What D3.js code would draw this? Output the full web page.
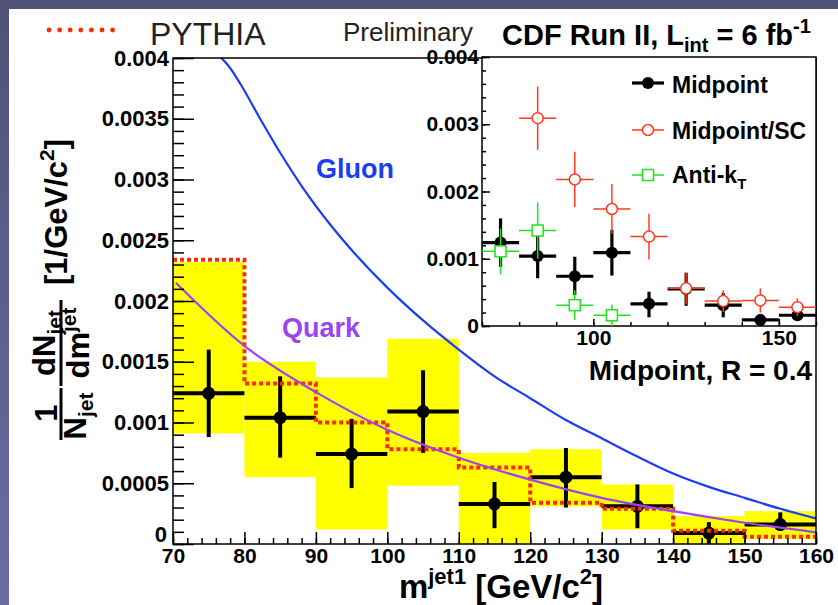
<!DOCTYPE html>
<html>
<head>
<meta charset="utf-8">
<script src="https://cdn.jsdelivr.net/npm/d3@7"></script>
<style>
  body { margin: 0; background: #fff; }
  svg { display: block; }
  text { font-family: "Liberation Sans", Arial, Helvetica, sans-serif; }
</style>
</head>
<body>
<svg id="chart" width="838" height="605"></svg>
<script>
// ---- data: leading-jet mass distribution, 70-160 GeV/c^2 in 10 GeV bins ----
const binEdges   = [70, 80, 90, 100, 110, 120, 130, 140, 150, 160];
const binCenters = [75, 85, 95, 105, 115, 125, 135, 145, 155];

// Midpoint R = 0.4, unfolded data with statistical errors
const midpoint     = [0.00124, 0.00104, 0.00074, 0.00109, 0.00033, 0.00055, 0.00031, 0.00009, 0.00016];
const midpointUp   = [0.00036, 0.00034, 0.00029, 0.00034, 0.00018, 0.00024, 0.00018, 0.00009, 0.00010];
const midpointDown = [0.00036, 0.00033, 0.00028, 0.00034, 0.00020, 0.00025, 0.00018, 0.00009, 0.00004];

// systematic uncertainty band (upper / lower edge per bin)
const systHigh = [0.00232, 0.00150, 0.00137, 0.00169, 0.00075, 0.00078, 0.00049, 0.00023, 0.00027];
const systLow  = [0.00091, 0.00055, 0.00012, 0.00048, 0.00000, 0.00031, 0.00012, 0.00000, 0.00004];

// PYTHIA prediction
const pythia = [0.00234, 0.00132, 0.00100, 0.00078, 0.00063, 0.00034, 0.00029, 0.00011, 0.00006];

// jet-function predictions (sampled along the curves)
const gluonMass = [76.6, 77.7, 79.4, 82.2, 85, 88.2, 92, 95, 100, 105, 110, 115, 120, 125, 130, 135, 140, 145, 150, 155, 160];
const gluonVal  = [0.00401, 0.00394, 0.00379, 0.00350, 0.00322, 0.00293, 0.00263, 0.00242, 0.00211, 0.00184, 0.00160, 0.00138, 0.00120, 0.00102, 0.00087, 0.00072, 0.00058, 0.00047, 0.00038, 0.00029, 0.00021];
const quarkMass = [70.4, 80, 90, 100, 110, 120, 130, 140, 150, 160];
const quarkVal  = [0.00215, 0.00163, 0.00125, 0.00094, 0.00071, 0.00053, 0.00038, 0.00027, 0.000175, 0.000096];

// inset: comparison of jet algorithms
const scCenters = [85, 95, 105, 115, 125, 135, 145, 155];
const midpointSC    = [0.00309, 0.00218, 0.00174, 0.00133, 0.00056, 0.00037, 0.00038, 0.00028];
const midpointSCErr = [0.00047, 0.00041, 0.00037, 0.00034, 0.00024, 0.00016, 0.00018, 0.00013];
const akCenters = [75, 85, 95, 105];
const antiKt    = [0.00111, 0.00142, 0.00031, 0.00016];
const antiKtErr = [0.00034, 0.00042, 0.00022, 0.00016];

// axis labels
const mainYTickValues = [0, 0.0005, 0.001, 0.0015, 0.002, 0.0025, 0.003, 0.0035, 0.004];
const mainYTickLabels = ["0", "0.0005", "0.001", "0.0015", "0.002", "0.0025", "0.003", "0.0035", "0.004"];
const mainXTickValues = [70, 80, 90, 100, 110, 120, 130, 140, 150, 160];
const insetYTickValues = [0, 0.001, 0.002, 0.003, 0.004];
const insetYTickLabels = ["0", "0.001", "0.002", "0.003", "0.004"];
const insetXTickValues = [100, 150];

// ---- colours ----
const YELLOW = "#ffff00";
const RED = "#ff2a00";
const SC_RED = "#ff3a1c";
const GREEN = "#22e022";
const BLUE = "#1c3cf5";
const PURPLE = "#9c44f2";

const svg = d3.select("#chart");

// frame background
const defs = svg.append("defs");
const grad = defs.append("linearGradient").attr("id", "edge").attr("x1", 0).attr("y1", 0).attr("x2", 0).attr("y2", 1);
grad.append("stop").attr("offset", 0).attr("stop-color", "#4f5178");
grad.append("stop").attr("offset", 1).attr("stop-color", "#6c6ca3");
svg.append("rect").attr("width", 838).attr("height", 605).attr("fill", "url(#edge)");
svg.append("rect").attr("x", 9).attr("y", 9).attr("width", 829).attr("height", 596).attr("fill", "#fff");

// ---- main plot ----
const x = d3.scaleLinear().domain([70, 160]).range([173, 816]);
const y = d3.scaleLinear().domain([0, 0.004]).range([544, 58]);

defs.append("clipPath").attr("id", "plotArea")
  .append("rect").attr("x", 173).attr("y", 58).attr("width", 643).attr("height", 486);

const main = svg.append("g");

// systematic band
main.selectAll("rect.syst").data(binCenters).join("rect")
  .attr("class", "syst")
  .attr("x", (d, i) => x(binEdges[i]))
  .attr("width", (d, i) => x(binEdges[i + 1]) - x(binEdges[i]))
  .attr("y", (d, i) => y(systHigh[i]))
  .attr("height", (d, i) => y(systLow[i]) - y(systHigh[i]))
  .attr("fill", YELLOW);

// data points with error bars
const pts = main.selectAll("g.pt").data(binCenters).join("g").attr("class", "pt");
pts.append("line")
  .attr("x1", (d, i) => x(binEdges[i])).attr("x2", (d, i) => x(binEdges[i + 1]))
  .attr("y1", (d, i) => y(midpoint[i])).attr("y2", (d, i) => y(midpoint[i]))
  .attr("stroke", "#000").attr("stroke-width", 4);
pts.append("line")
  .attr("x1", d => x(d)).attr("x2", d => x(d))
  .attr("y1", (d, i) => y(midpoint[i] + midpointUp[i]))
  .attr("y2", (d, i) => y(Math.max(0, midpoint[i] - midpointDown[i])))
  .attr("stroke", "#000").attr("stroke-width", 4);
pts.append("circle")
  .attr("cx", d => x(d)).attr("cy", (d, i) => y(midpoint[i]))
  .attr("r", 6.5).attr("fill", "#000");

// PYTHIA histogram outline
const stepPts = [];
pythia.forEach((v, i) => { stepPts.push([binEdges[i], v]); stepPts.push([binEdges[i + 1], v]); });
main.append("path")
  .attr("d", d3.line().x(d => x(d[0])).y(d => y(d[1]))(stepPts))
  .attr("fill", "none").attr("stroke", RED).attr("stroke-width", 4)
  .attr("stroke-dasharray", "4,3");

// theory curves
const curve = d3.line().x(d => x(d[0])).y(d => y(d[1])).curve(d3.curveMonotoneX);
const curves = main.append("g").attr("clip-path", "url(#plotArea)");
curves.append("path")
  .attr("d", curve(quarkMass.map((m, i) => [m, quarkVal[i]])))
  .attr("fill", "none").attr("stroke", PURPLE).attr("stroke-width", 2.2);
curves.append("path")
  .attr("d", curve(gluonMass.map((m, i) => [m, gluonVal[i]])))
  .attr("fill", "none").attr("stroke", BLUE).attr("stroke-width", 2.2);

// frame
main.append("rect").attr("x", 173).attr("y", 58).attr("width", 643).attr("height", 486)
  .attr("fill", "none").attr("stroke", "#000").attr("stroke-width", 1.5);

// axes (ticks drawn inward)
const yMinor = d3.axisLeft(y).tickValues(y.ticks(40)).tickSize(-11).tickFormat("");
const yMajor = d3.axisLeft(y).tickValues(mainYTickValues).tickSize(-21).tickPadding(6)
  .tickFormat((d, i) => mainYTickLabels[i]);
const xMinor = d3.axisBottom(x).tickValues(x.ticks(45)).tickSize(-6).tickFormat("");
const xMajor = d3.axisBottom(x).tickValues(mainXTickValues).tickSize(-12).tickPadding(6)
  .tickFormat(d3.format("d"));

function styleAxis(g) {
  g.select(".domain").remove();
  g.selectAll(".tick line").attr("stroke", "#000").attr("stroke-width", 1.5);
}
main.append("g").attr("transform", "translate(173,0)").call(yMinor).call(styleAxis);
const yAx = main.append("g").attr("transform", "translate(173,0)").call(yMajor).call(styleAxis);
yAx.selectAll("text").attr("font-size", 22).attr("font-weight", "bold").attr("fill", "#000")
  .attr("x", -4);
yAx.selectAll(".tick").filter(d => d === 0).select("text").attr("dy", "-0.1em").attr("x", -6);
main.append("g").attr("transform", "translate(0,544)").call(xMinor).call(styleAxis);
const xAx = main.append("g").attr("transform", "translate(0,544)").call(xMajor).call(styleAxis);
xAx.selectAll("text").attr("font-size", 21).attr("font-weight", "bold").attr("fill", "#000")
  .attr("y", 4).attr("dy", "0.71em");

// curve labels
main.append("text").attr("x", 316).attr("y", 178).attr("font-size", 27).attr("font-weight", "bold")
  .attr("fill", BLUE).text("Gluon");
main.append("text").attr("x", 282).attr("y", 337).attr("font-size", 27).attr("font-weight", "bold")
  .attr("fill", PURPLE).text("Quark");

// x-axis title
const xt = svg.append("text").attr("x", 501).attr("y", 598).attr("text-anchor", "middle")
  .attr("font-size", 33).attr("font-weight", "bold").attr("fill", "#000");
xt.append("tspan").text("m");
xt.append("tspan").attr("font-size", 22).attr("dy", -14).text("jet1");
xt.append("tspan").attr("dy", 14).text(" [GeV/c");
xt.append("tspan").attr("font-size", 22).attr("dy", -14).text("2");
xt.append("tspan").attr("dy", 14).text("]");

// y-axis title (rotated fractions)
function rtext(X, Y, size) {
  return svg.append("text").attr("x", X).attr("y", Y).attr("transform", `rotate(-90 ${X} ${Y})`)
    .attr("text-anchor", "middle").attr("font-size", size).attr("font-weight", "bold").attr("fill", "#000");
}
rtext(57, 413, 31).text("1");
const nj = rtext(86, 416, 31);
nj.append("tspan").text("N");
nj.append("tspan").attr("font-size", 21).attr("dy", 7).text("jet");
svg.append("line").attr("x1", 61).attr("x2", 61).attr("y1", 388).attr("y2", 440).attr("stroke", "#000").attr("stroke-width", 3);
const dn = rtext(55, 343, 31);
dn.append("tspan").text("dN");
dn.append("tspan").attr("font-size", 21).attr("dy", 7).text("jet");
svg.append("line").attr("x1", 61).attr("x2", 61).attr("y1", 300).attr("y2", 386).attr("stroke", "#000").attr("stroke-width", 3);
const dm = rtext(89, 343, 31);
dm.append("tspan").text("dm");
dm.append("tspan").attr("font-size", 21).attr("dy", -13).text("jet");
const unit = rtext(67, 212, 31);
unit.append("tspan").text("[1/GeV/c");
unit.append("tspan").attr("font-size", 21).attr("dy", -13).text("2");
unit.append("tspan").attr("dy", 13).text("]");

// ---- header ----
const legendDots = d3.range(7).map(k => 49 + k * 10.6);
svg.selectAll("circle.pydot").data(legendDots).join("circle").attr("class", "pydot")
  .attr("cx", d => d).attr("cy", 30).attr("r", 2.4).attr("fill", RED);
svg.append("text").attr("x", 150).attr("y", 45).attr("font-size", 32).attr("fill", "#222").text("PYTHIA");
svg.append("text").attr("x", 343).attr("y", 41).attr("font-size", 26).attr("fill", "#222").text("Preliminary");
const cdf = svg.append("text").attr("x", 502).attr("y", 45).attr("font-size", 29).attr("font-weight", "bold").attr("fill", "#000");
cdf.append("tspan").text("CDF Run II, L");
cdf.append("tspan").attr("font-size", 20).attr("dy", 7).text("int");
cdf.append("tspan").attr("dy", -7).text(" = 6 fb");
cdf.append("tspan").attr("font-size", 20).attr("dy", -12).text("-1");

// ---- inset ----
const ix = d3.scaleLinear().domain([70, 160]).range([482, 816]);
const iy = d3.scaleLinear().domain([0, 0.004]).range([326, 57]);
const inset = svg.append("g");
inset.append("rect").attr("x", 482).attr("y", 57).attr("width", 334).attr("height", 269)
  .attr("fill", "#fff").attr("stroke", "#000").attr("stroke-width", 1.5);

function series(g, centers, vals, up, down, color, width) {
  const s = g.append("g");
  const p = s.selectAll("g").data(centers).join("g");
  p.append("line")
    .attr("x1", d => ix(d - 5)).attr("x2", d => ix(d + 5))
    .attr("y1", (d, i) => iy(vals[i])).attr("y2", (d, i) => iy(vals[i]))
    .attr("stroke", color).attr("stroke-width", width);
  p.append("line")
    .attr("x1", d => ix(d)).attr("x2", d => ix(d))
    .attr("y1", (d, i) => iy(vals[i] + up[i]))
    .attr("y2", (d, i) => iy(Math.max(0, vals[i] - down[i])))
    .attr("stroke", color).attr("stroke-width", width);
  return p;
}
series(inset, binCenters, midpoint, midpointUp, midpointDown, "#000", 3.2)
  .append("circle").attr("cx", d => ix(d)).attr("cy", (d, i) => iy(midpoint[i])).attr("r", 6).attr("fill", "#000");
series(inset, scCenters, midpointSC, midpointSCErr, midpointSCErr, SC_RED, 1.5)
  .append("circle").attr("cx", d => ix(d)).attr("cy", (d, i) => iy(midpointSC[i])).attr("r", 5.5)
  .attr("fill", "#fff").attr("stroke", SC_RED).attr("stroke-width", 1.5);
series(inset, akCenters, antiKt, antiKtErr, antiKtErr, GREEN, 1.5)
  .append("rect").attr("x", d => ix(d) - 5.5).attr("y", (d, i) => iy(antiKt[i]) - 5.5)
  .attr("width", 11).attr("height", 11)
  .attr("fill", "#fff").attr("stroke", GREEN).attr("stroke-width", 1.5);

// inset axes
const iyMinor = d3.axisLeft(iy).tickValues(iy.ticks(20)).tickSize(-4).tickFormat("");
const iyMajor = d3.axisLeft(iy).tickValues(insetYTickValues).tickSize(-8).tickPadding(4)
  .tickFormat((d, i) => insetYTickLabels[i]);
const ixMinor = d3.axisBottom(ix).tickValues(ix.ticks(9)).tickSize(-4).tickFormat("");
const ixMajor = d3.axisBottom(ix).tickValues(insetXTickValues).tickSize(-7).tickPadding(6)
  .tickFormat(d3.format("d"));
inset.append("g").attr("transform", "translate(482,0)").call(iyMinor).call(styleAxis);
const iyAx = inset.append("g").attr("transform", "translate(482,0)").call(iyMajor).call(styleAxis);
iyAx.selectAll("text").attr("font-size", 21).attr("font-weight", "bold").attr("fill", "#000").attr("x", -3);
inset.append("g").attr("transform", "translate(0,326)").call(ixMinor).call(styleAxis);
const ixAx = inset.append("g").attr("transform", "translate(0,326)").call(ixMajor).call(styleAxis);
ixAx.selectAll("text").attr("font-size", 21).attr("font-weight", "bold").attr("fill", "#000")
  .attr("y", 4).attr("dy", "0.71em");

// inset legend
const lg = inset.append("g");
lg.append("line").attr("x1", 632).attr("x2", 664).attr("y1", 83).attr("y2", 83).attr("stroke", "#000").attr("stroke-width", 3.2);
lg.append("circle").attr("cx", 648).attr("cy", 83).attr("r", 6).attr("fill", "#000");
lg.append("text").attr("x", 672).attr("y", 93).attr("font-size", 23).attr("font-weight", "bold").text("Midpoint");
lg.append("line").attr("x1", 632).attr("x2", 664).attr("y1", 130).attr("y2", 130).attr("stroke", SC_RED).attr("stroke-width", 1.5);
lg.append("circle").attr("cx", 648).attr("cy", 130).attr("r", 5.5).attr("fill", "#fff").attr("stroke", SC_RED).attr("stroke-width", 1.5);
lg.append("text").attr("x", 672).attr("y", 139).attr("font-size", 23).attr("font-weight", "bold").text("Midpoint/SC");
lg.append("line").attr("x1", 632).attr("x2", 664).attr("y1", 175).attr("y2", 175).attr("stroke", GREEN).attr("stroke-width", 1.5);
lg.append("rect").attr("x", 642.5).attr("y", 169.5).attr("width", 11).attr("height", 11).attr("fill", "#fff").attr("stroke", GREEN).attr("stroke-width", 1.5);
const ak = lg.append("text").attr("x", 672).attr("y", 183).attr("font-size", 23).attr("font-weight", "bold");
ak.append("tspan").text("Anti-k");
ak.append("tspan").attr("font-size", 15).attr("dy", 6).text("T");

// algorithm label
svg.append("text").attr("x", 812).attr("y", 380).attr("text-anchor", "end").attr("font-size", 28)
  .attr("font-weight", "bold").attr("fill", "#000").text("Midpoint, R = 0.4");
</script>
</body>
</html>
